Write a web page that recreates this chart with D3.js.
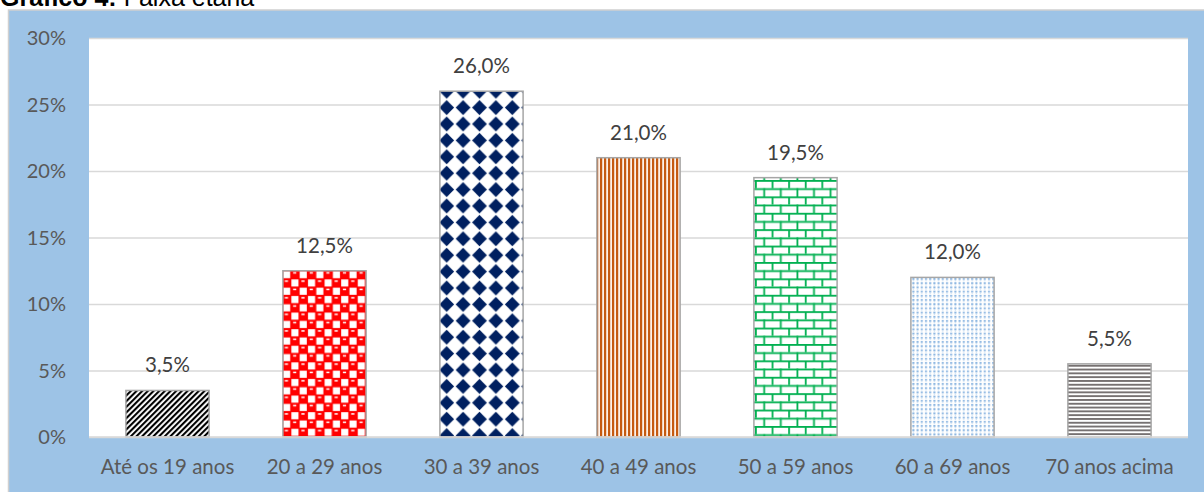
<!DOCTYPE html>
<html>
<head>
<meta charset="utf-8">
<script src="https://cdn.jsdelivr.net/npm/d3@7"></script>
<style>
  html, body { margin: 0; padding: 0; background: #fff; }
  svg { display: block; }
</style>
</head>
<body>
<svg id="chart" width="1204" height="492"></svg>
<script>
const categories = ['Até os 19 anos', '20 a 29 anos', '30 a 39 anos', '40 a 49 anos', '50 a 59 anos', '60 a 69 anos', '70 anos acima'];
const values = [3.5, 12.5, 26.0, 21.0, 19.5, 12.0, 5.5];
const yTicks = [0, 5, 10, 15, 20, 25, 30];
const patternIds = ['pDiag', 'pSphere', 'pDiamond', 'pVert', 'pBrick', 'pDots', 'pHoriz'];

const fmtPct = v => v.toFixed(1).replace('.', ',') + '%';

const svg = d3.select('#chart');
const defs = svg.append('defs');

// ---- patterns (mimic the Excel fill patterns)
// black wide upward diagonal
const p0 = defs.append('pattern').attr('id', 'pDiag')
  .attr('patternUnits', 'userSpaceOnUse').attr('width', 4).attr('height', 4)
  .attr('patternTransform', 'rotate(45)');
p0.append('rect').attr('width', 4).attr('height', 4).attr('fill', '#fff');
p0.append('rect').attr('width', 2.1).attr('height', 4).attr('fill', '#000');

// red spheres
const p1 = defs.append('pattern').attr('id', 'pSphere')
  .attr('patternUnits', 'userSpaceOnUse').attr('width', 16.6).attr('height', 16.6).attr('x', 282.5).attr('y', 270.5);
p1.append('rect').attr('width', 16.6).attr('height', 16.6).attr('fill', '#ff0000');
p1.append('rect').attr('x', 0.6).attr('y', 0.6).attr('width', 7.1).attr('height', 7.1).attr('fill', '#fff');
p1.append('rect').attr('x', 8.9).attr('y', 8.9).attr('width', 7.1).attr('height', 7.1).attr('fill', '#fff');
p1.append('rect').attr('x', 10.6).attr('y', 1.6).attr('width', 3.2).attr('height', 1.5).attr('fill', '#fff');
p1.append('rect').attr('x', 2.3).attr('y', 9.9).attr('width', 3.2).attr('height', 1.5).attr('fill', '#fff');

// navy diamonds
const p2 = defs.append('pattern').attr('id', 'pDiamond')
  .attr('patternUnits', 'userSpaceOnUse').attr('width', 16.4).attr('height', 16.4).attr('x', 438.5).attr('y', 83);
p2.append('rect').attr('width', 16.4).attr('height', 16.4).attr('fill', '#fff');
p2.append('path').attr('d', 'M8.2,0.8 L15.6,8.2 L8.2,15.6 L0.8,8.2 Z').attr('fill', '#002060');

// orange vertical stripes
const p3 = defs.append('pattern').attr('id', 'pVert')
  .attr('patternUnits', 'userSpaceOnUse').attr('width', 4).attr('height', 4);
p3.append('rect').attr('width', 4).attr('height', 4).attr('fill', '#fdf1e8');
p3.append('rect').attr('width', 2.2).attr('height', 4).attr('fill', '#c55a11');

// green bricks
const p4 = defs.append('pattern').attr('id', 'pBrick')
  .attr('patternUnits', 'userSpaceOnUse').attr('width', 16.6).attr('height', 16.4).attr('x', 755).attr('y', 180);
p4.append('rect').attr('width', 16.6).attr('height', 16.4).attr('fill', '#fff');
p4.append('rect').attr('x', 0).attr('y', 0).attr('width', 16.6).attr('height', 1.8).attr('fill', '#00b050');
p4.append('rect').attr('x', 0).attr('y', 8.2).attr('width', 16.6).attr('height', 1.8).attr('fill', '#00b050');
p4.append('rect').attr('x', 0).attr('y', 0).attr('width', 1.8).attr('height', 8.2).attr('fill', '#00b050');
p4.append('rect').attr('x', 8.3).attr('y', 8.2).attr('width', 1.8).attr('height', 8.2).attr('fill', '#00b050');

// light blue dots
const p5 = defs.append('pattern').attr('id', 'pDots')
  .attr('patternUnits', 'userSpaceOnUse').attr('width', 4.2).attr('height', 4.2);
p5.append('rect').attr('width', 4.2).attr('height', 4.2).attr('fill', '#fff');
p5.append('rect').attr('x', 1).attr('y', 0.8).attr('width', 2).attr('height', 2).attr('fill', '#8fb8e2');
p5.append('rect').attr('x', 1.4).attr('y', 3).attr('width', 1.2).attr('height', 1).attr('fill', '#c6dcf1');

// grey horizontal stripes
const p6 = defs.append('pattern').attr('id', 'pHoriz')
  .attr('patternUnits', 'userSpaceOnUse').attr('width', 4).attr('height', 3.8);
p6.append('rect').attr('width', 4).attr('height', 3.8).attr('fill', '#fff');
p6.append('rect').attr('width', 4).attr('height', 1.9).attr('fill', '#767171');

// ---- title (cut off at top like the source)
const title = svg.append('text')
  .attr('x', 0).attr('y', 6)
  .style('font-family', '"Liberation Sans", Arial, sans-serif')
  .style('font-size', '25px')
  .style('fill', '#000');
title.append('tspan').style('font-weight', 'bold').text('Gráfico 4:');
title.append('tspan').text(' Faixa etária');

// ---- chart area
svg.append('rect')
  .attr('x', 8.5).attr('y', 10)
  .attr('width', 1210).attr('height', 500)
  .attr('fill', '#9dc3e6')
  .attr('stroke', '#d0d0d0')
  .attr('stroke-width', 1.5);

const plot = { left: 89, right: 1188, top: 38, bottom: 437 };

svg.append('rect')
  .attr('x', plot.left).attr('y', plot.top)
  .attr('width', plot.right - plot.left).attr('height', plot.bottom - plot.top)
  .attr('fill', '#fff');

const x = d3.scaleBand()
  .domain(categories)
  .range([plot.left, plot.right])
  .paddingInner(0.47)
  .paddingOuter(0.235);

const y = d3.scaleLinear()
  .domain([0, 30])
  .range([plot.bottom, plot.top]);

const labelFont = 'Lato, "Open Sans", sans-serif';

// Grid lines
svg.append('g')
  .attr('transform', `translate(${plot.left},0)`)
  .call(d3.axisLeft(y).tickValues(yTicks).tickSize(-(plot.right - plot.left)).tickFormat(''))
  .call(g => g.select('.domain').remove())
  .call(g => g.selectAll('line').attr('stroke', '#d9d9d9').attr('stroke-width', 1.3));

// Y tick labels
svg.append('g')
  .selectAll('text')
  .data(yTicks)
  .enter().append('text')
  .attr('x', 66)
  .attr('y', d => y(d))
  .attr('dy', '0.36em')
  .style('text-anchor', 'end')
  .style('font-family', labelFont)
  .style('font-size', '20px')
  .style('fill', '#595959')
  .text(d => d + '%');

// Bars
svg.append('g')
  .selectAll('rect')
  .data(values)
  .enter().append('rect')
  .attr('x', (d, i) => x(categories[i]))
  .attr('y', d => y(d))
  .attr('width', x.bandwidth())
  .attr('height', d => y(0) - y(d))
  .attr('fill', (d, i) => `url(#${patternIds[i]})`)
  .attr('stroke', '#a6a6a6')
  .attr('stroke-width', 1.5);

// x axis line
svg.append('line')
  .attr('x1', plot.left).attr('x2', plot.right)
  .attr('y1', y(0)).attr('y2', y(0))
  .attr('stroke', '#d9d9d9').attr('stroke-width', 1.5);

// value labels
svg.append('g')
  .selectAll('text')
  .data(values)
  .enter().append('text')
  .attr('x', (d, i) => x(categories[i]) + x.bandwidth() / 2)
  .attr('y', d => y(d) - 18)
  .style('text-anchor', 'middle')
  .style('font-family', labelFont)
  .style('font-size', '20.5px')
  .style('fill', '#404040')
  .text(fmtPct);

// category labels
svg.append('g')
  .selectAll('text')
  .data(categories)
  .enter().append('text')
  .attr('x', d => x(d) + x.bandwidth() / 2)
  .attr('y', 474)
  .style('text-anchor', 'middle')
  .style('font-family', labelFont)
  .style('font-size', '20.5px')
  .style('fill', '#595959')
  .text(d => d);
</script>
</body>
</html>
